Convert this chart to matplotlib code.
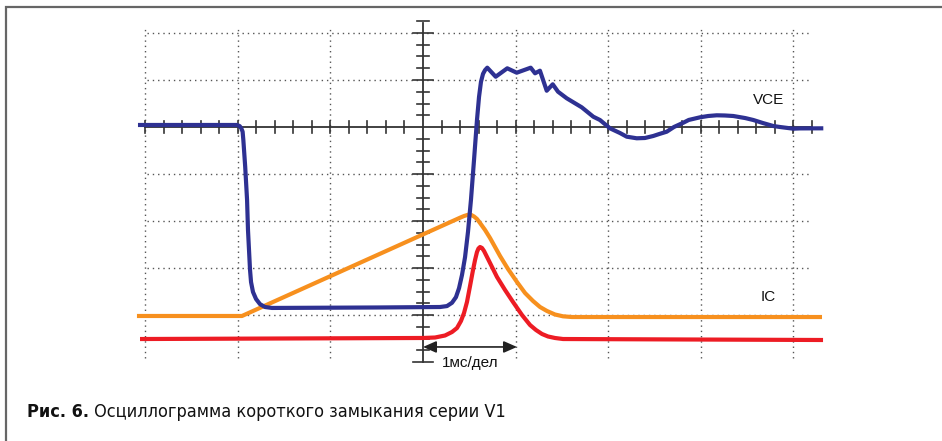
import matplotlib
matplotlib.use("Agg")
import matplotlib.pyplot as plt
from matplotlib.patches import Rectangle
import numpy as np

# ---- data (oscilloscope divisions; x: 1 div = 1 ms, origin at centre axis) ----
vce_x = [-3.078, -2.01, -1.98, -1.962, -1.948, -1.94, -1.92, -1.90, -1.89, -1.868, -1.857,
         -1.836, -1.803, -1.760, -1.706, -1.631, -0.5, 0.184, 0.259, 0.313, 0.356, 0.389,
         0.421, 0.454, 0.486, 0.518, 0.551, 0.583, 0.605, 0.626, 0.648, 0.670,
         0.694, 0.785, 0.910, 1.012, 1.163, 1.210, 1.263, 1.336, 1.401, 1.458,
         1.552, 1.714, 1.839, 1.911, 2.019, 2.127, 2.200, 2.308, 2.397, 2.487, 2.55, 2.632,
         2.71, 2.811, 2.87, 2.991, 3.08, 3.172, 3.26, 3.351, 3.48, 3.567, 3.67, 3.783,
         3.855, 3.999, 4.07, 4.323]
vce_y = [0.043, 0.043, 0.02, -0.03, -0.1, -0.28, -0.85, -1.55, -2.19, -3.04, -3.30,
         -3.51, -3.66, -3.77, -3.83, -3.85, -3.84, -3.83, -3.81, -3.74, -3.62, -3.43,
         -3.15, -2.77, -2.23, -1.55, -0.70, 0.15, 0.64, 0.96, 1.13, 1.21,
         1.262, 1.070, 1.249, 1.155, 1.262, 1.143, 1.198, 0.772, 0.909, 0.751,
         0.611, 0.419, 0.219, 0.149, -0.028, -0.128, -0.206, -0.240, -0.234, -0.191, -0.15, -0.100,
         0.0, 0.091, 0.15, 0.206, 0.234, 0.249, 0.245, 0.234, 0.19, 0.149, 0.085, 0.021,
         0.0, -0.036, -0.03, -0.028]

ic_lin_x = [-3.089, -1.955, 0.400, 0.443, 0.486, 0.518, 0.551, 0.583, 0.616, 0.670, 0.724,
            0.832, 0.918, 1.015, 1.102, 1.188, 1.264, 1.339, 1.425, 1.512, 1.609, 4.309]
ic_lin_y = [-4.021, -4.021, -1.930, -1.894, -1.868, -1.868, -1.904, -1.957, -2.043, -2.191, -2.362,
            -2.745, -3.021, -3.298, -3.532, -3.702, -3.830, -3.915, -3.989, -4.028, -4.043, -4.043]

ic_x = [-3.056, 0.0, 0.130, 0.238, 0.313, 0.367, 0.410, 0.443, 0.475, 0.508, 0.540, 0.562,
        0.583, 0.599, 0.616, 0.637, 0.659, 0.724, 0.799, 0.886, 0.972, 1.069, 1.156, 1.220,
        1.285, 1.350, 1.425, 1.512, 4.320]
ic_y = [-4.511, -4.489, -4.479, -4.436, -4.362, -4.277, -4.128, -3.957, -3.723, -3.383, -3.043, -2.830,
        -2.660, -2.585, -2.553, -2.574, -2.638, -2.894, -3.191, -3.468, -3.723, -4.000, -4.213, -4.319,
        -4.404, -4.457, -4.489, -4.511, -4.532]

grid_x = [-3, -2, -1, 1, 2, 3, 4]
grid_y = [2, 1, -1, -2, -3, -4]
label_vce = "VCE"
label_ic = "IC"
scale_label = "1мс/дел"
caption_bold = "Рис. 6."
caption_text = " Осциллограмма короткого замыкания серии V1"

# ---- figure ----
W, H = 942, 441
fig = plt.figure(figsize=(W / 100, H / 100), dpi=100)
fig.patch.set_facecolor("white")

px_per_x, px_per_y = 92.6, 47.0
x0_px, y0_px = 423, 127
left_px, right_px, top_px, bot_px = 120, 840, 12, 380
ax = fig.add_axes([left_px / W, 1 - bot_px / H, (right_px - left_px) / W, (bot_px - top_px) / H])
ax.set_xlim((left_px - x0_px) / px_per_x, (right_px - x0_px) / px_per_x)
ax.set_ylim((y0_px - bot_px) / px_per_y, (y0_px - top_px) / px_per_y)
ax.axis("off")

gcol = "#555555"
dots = (0, (1, 2.8))
for gx in grid_x:
    ax.plot([gx, gx], [-4.92, 2.13], color=gcol, lw=1.0, ls=dots, zorder=1)
for gy in grid_y:
    ax.plot([-2.98, 4.2], [gy, gy], color=gcol, lw=1.0, ls=dots, zorder=1)

acol = "#333333"
ax.plot([-3.0, 4.2], [0, 0], color=acol, lw=1.3, zorder=2)
ax.plot([0, 0], [-5.0, 2.22], color=acol, lw=1.3, zorder=2)
hx = np.round(np.arange(-3.0, 4.21, 0.2), 2)
for t in hx:
    if abs(t) > 1e-6:
        ax.plot([t, t], [-0.13, 0.13], color=acol, lw=1.2, zorder=2)
vy = np.round(np.arange(-5.0, 2.26, 0.25), 2)
for t in vy:
    if abs(t) > 1e-6:
        w = 0.108 if abs(t - round(t)) < 1e-6 else 0.062
        ax.plot([-w, w], [t, t], color=acol, lw=1.2, zorder=2)

kw = dict(lw=3.0, solid_joinstyle="round", solid_capstyle="butt")
ax.plot(ic_x, ic_y, color="#ED1C24", zorder=3, **kw)
ax.plot(ic_lin_x, ic_lin_y, color="#F7901E", zorder=4, **kw)
ax.plot(vce_x, vce_y, color="#2E3192", zorder=5, **kw)

lab_font = "Liberation Sans"
ax.text(3.73, 0.57, label_vce, ha="center", va="center", fontsize=11, family=lab_font, color="#111111")
ax.text(3.73, -3.62, label_ic, ha="center", va="center", fontsize=11, family=lab_font, color="#111111")

ax.annotate("", xy=(1.015, -4.68), xytext=(0.0, -4.68),
            arrowprops=dict(arrowstyle="<|-|>,head_length=0.5,head_width=0.22", mutation_scale=16,
                            color="#222222", lw=1.2, shrinkA=0, shrinkB=0), zorder=6)
ax.text(0.51, -5.03, scale_label, ha="center", va="center", fontsize=11, family=lab_font, color="#111111")

# frame
fig.add_artist(Rectangle((6 / W, -0.5), 2.0, (1 - 7 / H) + 0.5, transform=fig.transFigure,
                         fill=False, edgecolor="#666666", lw=1.6, clip_on=False))

cap_font = ["DejaVu Sans"]
t1 = fig.text(27 / W, 1 - 417 / H, caption_bold, fontsize=13, fontweight="bold",
              family=cap_font, fontstretch="condensed", va="baseline", ha="left", color="#111111")
fig.canvas.draw()
bb = t1.get_window_extent(renderer=fig.canvas.get_renderer())
fig.text(bb.x1 / W, 1 - 417 / H, caption_text, fontsize=13, family=cap_font,
         fontstretch="condensed", va="baseline", ha="left", color="#111111")

fig.savefig("out.png", dpi=100)
